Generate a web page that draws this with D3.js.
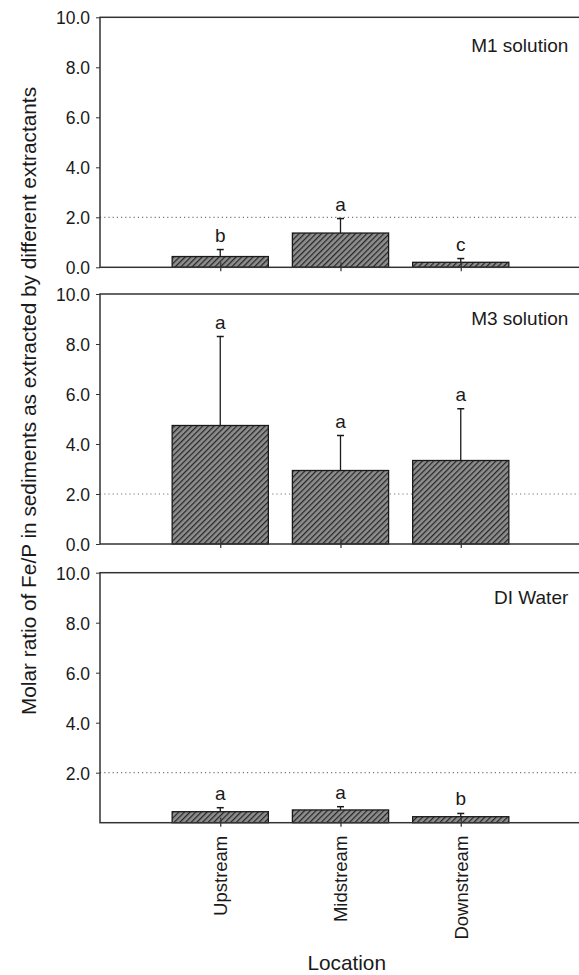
<!DOCTYPE html>
<html>
<head>
<meta charset="utf-8">
<script src="https://cdn.jsdelivr.net/npm/d3@7"></script>
<style>
  body { margin: 0; background: #fff; }
  text { font-family: "Liberation Sans", Arial, sans-serif; fill: #1a1a1a; }
  .axis line, .axis path { stroke: #333; }
</style>
</head>
<body>
<svg id="chart"></svg>
<script>
// categories and values
var locations = ["Upstream", "Midstream", "Downstream"];
var panelNames = ["M1 solution", "M3 solution", "DI Water"];

var m1Means = [0.43, 1.37, 0.20];
var m1Errors = [0.28, 0.58, 0.15];
var m1Letters = ["b", "a", "c"];

var m3Means = [4.74, 2.94, 3.34];
var m3Errors = [3.56, 1.40, 2.07];
var m3Letters = ["a", "a", "a"];

var diMeans = [0.44, 0.51, 0.24];
var diErrors = [0.16, 0.13, 0.13];
var diLetters = ["a", "a", "b"];

var yTicks = [0, 2, 4, 6, 8, 10];
var refValue = 2.0;

var width = 579, height = 975;
var left = 100, right = 581; // right frame sits just past the picture edge
var panelTops = [17.3, 294, 572.7];
var panelHeight = 250;
var titleOffsets = [35, 31, 31];

var panels = [
	{ name: panelNames[0], means: m1Means, errors: m1Errors, letters: m1Letters },
	{ name: panelNames[1], means: m3Means, errors: m3Errors, letters: m3Letters },
	{ name: panelNames[2], means: diMeans, errors: diErrors, letters: diLetters }
];

var svg = d3.select("#chart")
	.attr("width", width)
	.attr("height", height);

var defs = svg.append("defs");
var pat = defs.append("pattern")
	.attr("id", "hatch")
	.attr("patternUnits", "userSpaceOnUse")
	.attr("width", 4).attr("height", 4)
	.attr("patternTransform", "rotate(45)");
pat.append("rect").attr("width", 4).attr("height", 4).attr("fill", "#8e8e8e");
pat.append("line")
	.attr("x1", 0).attr("x2", 0).attr("y1", 0).attr("y2", 4)
	.attr("stroke", "#262626").attr("stroke-width", 2.5);

// x positions: categories at 1, 2, 3
var x = d3.scaleLinear().domain([0, 4]).range([left, right]);
var barWidth = 0.8;

panels.forEach(function (p, pi) {
	var top = panelTops[pi];
	var y = d3.scaleLinear().domain([0, 10]).range([top + panelHeight, top]);
	var g = svg.append("g").attr("class", "panel");
	var isLast = pi === panels.length - 1;

	// dotted reference line
	g.append("line")
		.attr("x1", left).attr("x2", right)
		.attr("y1", y(refValue)).attr("y2", y(refValue))
		.attr("stroke", "#777")
		.attr("stroke-width", 1.2)
		.attr("stroke-dasharray", "1.2,3");

	// bars
	g.selectAll(".bar")
		.data(p.means).enter().append("rect")
			.attr("class", "bar")
			.attr("x", function (d, i) { return x(i + 1 - barWidth / 2); })
			.attr("width", x(barWidth) - x(0))
			.attr("y", function (d) { return y(d); })
			.attr("height", function (d) { return y(0) - y(d); })
			.attr("fill", "url(#hatch)")
			.attr("stroke", "#1a1a1a")
			.attr("stroke-width", 1.3);

	// error bars (upper only)
	g.selectAll(".err")
		.data(p.means).enter().append("line")
			.attr("class", "err")
			.attr("x1", function (d, i) { return x(i + 1); })
			.attr("x2", function (d, i) { return x(i + 1); })
			.attr("y1", function (d) { return y(d); })
			.attr("y2", function (d, i) { return y(d + p.errors[i]); })
			.attr("stroke", "#1a1a1a").attr("stroke-width", 1.3);
	g.selectAll(".cap")
		.data(p.means).enter().append("line")
			.attr("class", "cap")
			.attr("x1", function (d, i) { return x(i + 1) - 3.5; })
			.attr("x2", function (d, i) { return x(i + 1) + 3.5; })
			.attr("y1", function (d, i) { return y(d + p.errors[i]); })
			.attr("y2", function (d, i) { return y(d + p.errors[i]); })
			.attr("stroke", "#1a1a1a").attr("stroke-width", 1.5);

	// significance letters
	g.selectAll(".letter")
		.data(p.letters).enter().append("text")
			.attr("class", "letter")
			.attr("x", function (d, i) { return x(i + 1); })
			.attr("y", function (d, i) { return y(p.means[i] + p.errors[i]) - 8; })
			.attr("text-anchor", "middle")
			.style("font-size", "19px")
			.text(function (d) { return d; });

	// frame
	g.append("rect")
		.attr("x", left).attr("y", top)
		.attr("width", right - left).attr("height", panelHeight)
		.attr("fill", "none")
		.attr("stroke", "#333").attr("stroke-width", 1.5);

	// y axis
	var yAxis = d3.axisLeft(y)
		.tickValues(isLast ? yTicks.slice(1) : yTicks)
		.tickFormat(d3.format(".1f"))
		.tickSize(4).tickPadding(6);
	var ya = g.append("g").attr("class", "axis")
		.attr("transform", "translate(" + left + ",0)")
		.call(yAxis);
	ya.select(".domain").remove();
	ya.selectAll("text").style("font-size", "17.5px").attr("dy", "0.36em");

	// x axis ticks, crossing the baseline
	var xAxis = d3.axisBottom(x)
		.tickValues([1, 2, 3])
		.tickSize(4)
		.tickFormat(function (d) { return isLast ? locations[d - 1] : ""; });
	var xa = g.append("g").attr("class", "axis")
		.attr("transform", "translate(0," + (top + panelHeight) + ")")
		.call(xAxis);
	xa.select(".domain").remove();
	xa.selectAll(".tick line").attr("y1", -5).attr("stroke-width", 1.2);
	xa.selectAll("text")
		.style("font-size", "18.5px")
		.attr("transform", "rotate(-90)")
		.attr("text-anchor", "end")
		.attr("x", -13)
		.attr("y", 0)
		.attr("dy", "0.35em");

	// panel title
	g.append("text")
		.attr("x", 568.3)
		.attr("y", top + titleOffsets[pi])
		.attr("text-anchor", "end")
		.style("font-size", "19px")
		.text(p.name);
});

// axis titles
svg.append("text")
	.attr("transform", "translate(36,401) rotate(-90)")
	.attr("text-anchor", "middle")
	.style("font-size", "20.8px")
	.text("Molar ratio of Fe/P in sediments as extracted by different extractants");

svg.append("text")
	.attr("x", 346.7)
	.attr("y", 970)
	.attr("text-anchor", "middle")
	.style("font-size", "20.8px")
	.text("Location");
</script>
</body>
</html>
